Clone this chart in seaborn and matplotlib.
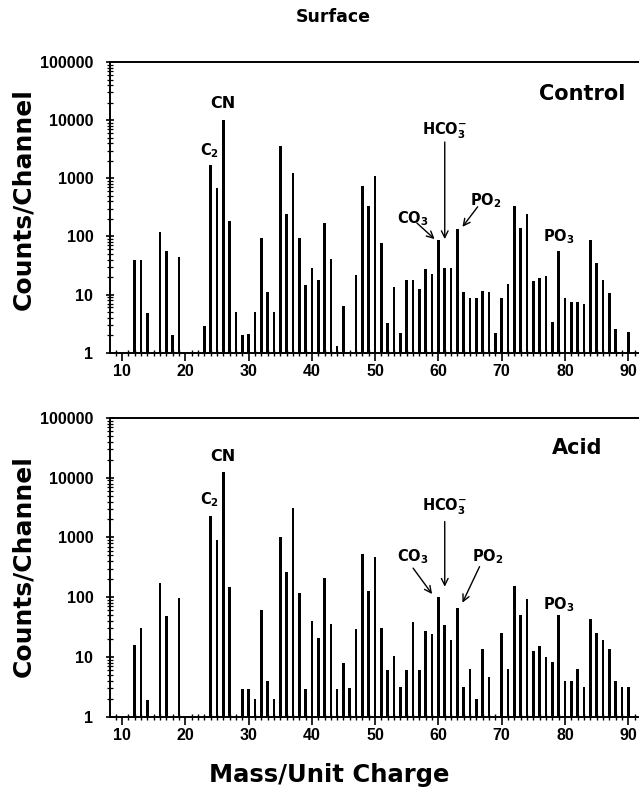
import matplotlib
matplotlib.use("Agg")
import matplotlib.pyplot as plt
import seaborn as sns
from matplotlib.ticker import LogLocator, FixedLocator, MultipleLocator, NullFormatter

# ---------------- data ----------------
control_mass = [12, 13, 14, 16, 17, 18, 19, 23, 24, 25, 26, 27, 28, 29, 30, 31, 32, 33, 34, 35,
                36, 37, 38, 39, 40, 41, 42, 43, 44, 45, 47, 48, 49, 50, 51, 52, 53, 54, 55, 56,
                57, 58, 59, 60, 61, 62, 63, 64, 65, 66, 67, 68, 69, 70, 71, 72, 73, 74, 75, 76,
                77, 78, 79, 80, 81, 82, 83, 84, 85, 86, 87, 88, 90]
control_counts = [39, 40, 4.9, 118, 56, 2.0, 44, 2.9, 1670, 690, 10000, 185, 5.0, 2.0, 2.1, 5.0,
                  93, 11.2, 5.1, 3600, 245, 1230, 93, 14.5, 29, 17.7, 169, 41, 1.3, 6.4, 22, 730,
                  330, 1090, 78, 3.3, 13.4, 2.2, 17.5, 17.5, 12.3, 28, 22.8, 86, 29, 29, 135, 11.2,
                  8.9, 8.7, 11.3, 10.9, 2.2, 8.9, 15, 330, 137, 240, 17.3, 19.5, 20.8, 3.4, 57, 8.9,
                  7.4, 7.4, 7.0, 86, 35, 17.5, 10.6, 2.55, 2.3]

acid_mass = [12, 13, 14, 16, 17, 19, 24, 25, 26, 27, 29, 30, 31, 32, 33, 34, 35, 36, 37, 38, 39,
             40, 41, 42, 43, 44, 45, 46, 47, 48, 49, 50, 51, 52, 53, 54, 55, 56, 57, 58, 59, 60,
             61, 62, 63, 64, 65, 66, 67, 68, 70, 71, 72, 73, 74, 75, 76, 77, 78, 79, 80, 81, 82,
             83, 84, 85, 86, 87, 88, 89, 90]
acid_counts = [16, 30, 1.9, 170, 49, 98, 2300, 910, 12300, 149, 2.9, 2.9, 1.95, 60, 4.0, 1.95,
               1000, 264, 3100, 117, 2.9, 40, 20.5, 208, 35, 2.95, 8.0, 3.0, 29, 535, 128, 480,
               31, 6.0, 10.4, 3.1, 6.0, 39, 6.0, 27, 24, 102, 34, 19.5, 67, 3.1, 6.2, 2.0, 13.6,
               4.7, 25, 6.2, 155, 50, 92, 12.8, 15.5, 9.9, 8.2, 50, 4.0, 4.0, 6.2, 3.1, 43, 25,
               19.5, 13.6, 4.0, 3.1, 3.1]

x_ticks = [10, 20, 30, 40, 50, 60, 70, 80, 90]
y_ticks = [1, 10, 100, 1000, 10000, 100000]
y_ticklabels = ["1", "10", "100", "1000", "10000", "100000"]

# ---------------- style ----------------
sns.set_style("ticks")
plt.rcParams["font.family"] = ["DejaVu Sans"]
plt.rcParams["font.weight"] = "bold"
plt.rcParams["mathtext.fontset"] = "dejavusans"
plt.rcParams["mathtext.default"] = "bf"
for k in ["text.color", "axes.labelcolor", "xtick.color", "ytick.color", "axes.edgecolor"]:
    plt.rcParams[k] = "black"

TICKFONT = dict(family=["Liberation Sans", "DejaVu Sans"], size=11.5, weight="bold")

W, H = 639, 791
fig = plt.figure(figsize=(W / 100, H / 100), dpi=100)

def fx(px):
    return px / W

def fy(py):
    return 1 - py / H

left = fx(110)
width = 1 - left
ax1 = fig.add_axes([left, fy(352.7), width, fy(62) - fy(352.7)])
ax2 = fig.add_axes([left, fy(716.7), width, fy(418) - fy(716.7)])

for ax, m, c in [(ax1, control_mass, control_counts), (ax2, acid_mass, acid_counts)]:
    sns.barplot(x=m, y=c, native_scale=True, color="black", saturation=1,
                width=0.42, linewidth=0, errorbar=None, ax=ax)
    ax.set_yscale("log")
    ax.set_xlim(8.1, 91.7)
    ax.set_ylim(1, 1e5)
    ax.xaxis.set_major_locator(FixedLocator(x_ticks))
    ax.xaxis.set_minor_locator(MultipleLocator(1))
    ax.set_xticklabels([str(t) for t in x_ticks], fontdict=TICKFONT)
    ax.yaxis.set_major_locator(FixedLocator(y_ticks))
    ax.yaxis.set_minor_locator(LogLocator(base=10, subs=range(2, 10), numticks=20))
    ax.yaxis.set_minor_formatter(NullFormatter())
    ax.set_yticklabels(y_ticklabels, fontdict=TICKFONT)
    ax.tick_params(axis="x", which="major", direction="out", length=6, width=1.2, pad=2)
    ax.tick_params(axis="x", which="minor", direction="inout", length=4, width=1.0)
    ax.tick_params(axis="y", which="major", direction="inout", length=6, width=1.2, pad=9)
    ax.tick_params(axis="y", which="minor", direction="inout", length=4, width=0.9)
    for s in ["left", "bottom", "top"]:
        ax.spines[s].set_linewidth(1.4)
        ax.spines[s].set_color("black")
    ax.spines["right"].set_visible(False)
    ax.set_xlabel("")
    ax.set_ylabel("Counts/Channel", fontsize=18, fontweight="bold")

ax1.yaxis.set_label_coords(-0.142, 0.53)
ax2.yaxis.set_label_coords(-0.142, 0.505)

fig.text(fx(333), fy(17), "Surface", ha="center", va="center", fontsize=12.5, fontweight="bold")
fig.text(fx(329), fy(775), "Mass/Unit Charge", ha="center", va="center", fontsize=17.5, fontweight="bold")

tk = dict(ha="center", va="center", fontsize=10.5, fontweight="bold")
ap = dict(arrowstyle="->", color="black", lw=1.0, shrinkA=0, shrinkB=0, mutation_scale=12)

# ---- top panel labels ----
ax1.text(0.975, 0.89, "Control", transform=ax1.transAxes, ha="right", va="center",
         fontsize=15, fontweight="bold")
ax1.text(26, 19000, "CN", ha="center", va="center", fontsize=11.5, fontweight="bold")
ax1.text(23.8, 3000, r"C$_2$", **tk)
ax1.text(61, 6500, r"HCO$_3^{-}$", **tk)
ax1.annotate("", xy=(61, 90), xytext=(61, 4200), arrowprops=ap)
ax1.text(56, 205, r"CO$_3$", **tk)
ax1.annotate("", xy=(59.4, 90), xytext=(56.6, 170), arrowprops=ap)
ax1.text(67.5, 420, r"PO$_2$", **tk)
ax1.annotate("", xy=(63.8, 146), xytext=(66.2, 323), arrowprops=ap)
ax1.text(79, 98, r"PO$_3$", **tk)

# ---- bottom panel labels ----
ax2.text(0.93, 0.9, "Acid", transform=ax2.transAxes, ha="right", va="center",
         fontsize=15, fontweight="bold")
ax2.text(26, 22700, "CN", ha="center", va="center", fontsize=11.5, fontweight="bold")
ax2.text(23.8, 4260, r"C$_2$", **tk)
ax2.text(61, 3300, r"HCO$_3^{-}$", **tk)
ax2.annotate("", xy=(61, 150), xytext=(61, 1850), arrowprops=ap)
ax2.text(56, 480, r"CO$_3$", **tk)
ax2.annotate("", xy=(59.0, 113), xytext=(56.0, 307), arrowprops=ap)
ax2.text(67.8, 480, r"PO$_2$", **tk)
ax2.annotate("", xy=(63.8, 81), xytext=(66.5, 325), arrowprops=ap)
ax2.text(79, 74, r"PO$_3$", **tk)

fig.savefig("out.png", dpi=100)
